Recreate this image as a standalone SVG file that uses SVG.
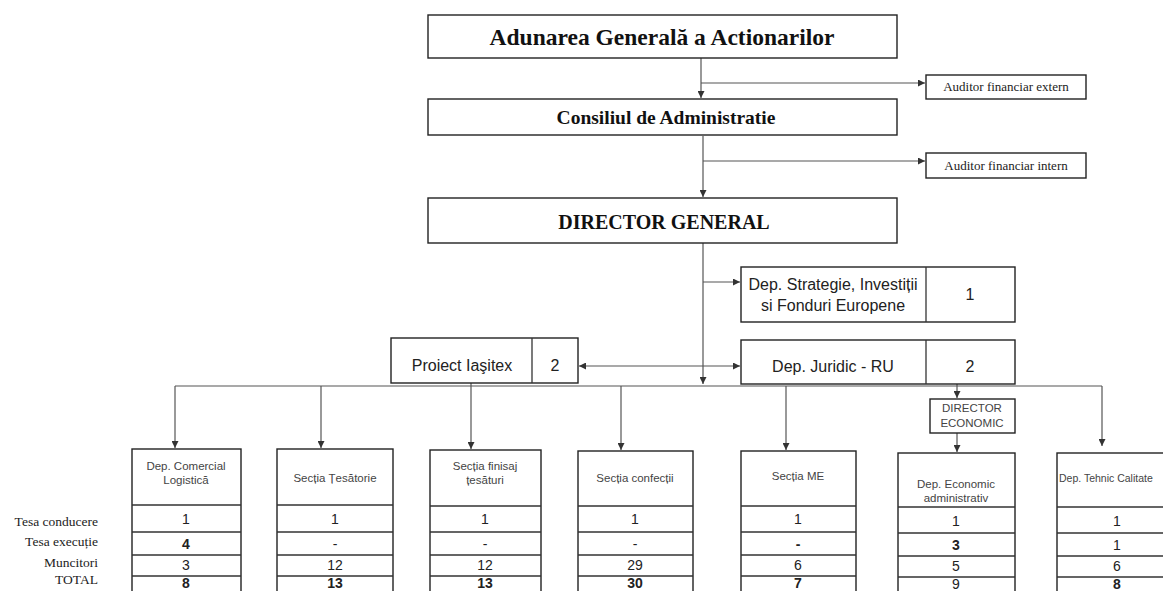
<svg xmlns="http://www.w3.org/2000/svg" width="1163" height="591" viewBox="0 0 1163 591">
<style>
.box{fill:#fff;stroke:#222;stroke-width:1.4}
.ln{fill:none;stroke:#333;stroke-width:1.3}
.con{fill:none;stroke:#555;stroke-width:1.2}
.serifB{font-family:"Liberation Serif","Times New Roman",serif;font-weight:bold;fill:#111;text-anchor:middle}
.aud{font-family:"Liberation Serif","Times New Roman",serif;font-size:13px;fill:#222;text-anchor:middle}
.dep{font-family:"Liberation Sans",Arial,sans-serif;font-size:16px;fill:#222;text-anchor:middle}
.hdr{font-family:"Liberation Sans",Arial,sans-serif;font-size:11.5px;fill:#444;text-anchor:middle}
.val{font-family:"Liberation Sans",Arial,sans-serif;font-size:14px;fill:#222;text-anchor:middle}
.b{font-weight:bold}
.lbl{font-family:"Liberation Serif","Times New Roman",serif;font-size:13.5px;fill:#222;text-anchor:end}
</style>
<defs>
<marker id="ah" viewBox="0 0 10 10" refX="10" refY="5" markerWidth="7" markerHeight="7" markerUnits="userSpaceOnUse" orient="auto">
<path d="M0,0 L10,5 L0,10 z" fill="#333"/>
</marker>
</defs>
<rect width="1163" height="591" fill="#fff"/>

<g id="connectors">
<path class="con" d="M701 58 V98" marker-end="url(#ah)"/>
<path class="con" d="M701 83 H925" marker-end="url(#ah)"/>
<path class="con" d="M703 136 V197" marker-end="url(#ah)"/>
<path class="con" d="M703 161 H925" marker-end="url(#ah)"/>
<path class="con" d="M703 243 V384" marker-end="url(#ah)"/>
<path class="con" d="M703 282 H740" marker-end="url(#ah)"/>
<path class="con" d="M703 366 H579" marker-end="url(#ah)"/>
<path class="con" d="M703 366 H740" marker-end="url(#ah)"/>
<path class="con" d="M175 386 H1102"/>
<path class="con" d="M175 386 V448" marker-end="url(#ah)"/>
<path class="con" d="M321 386 V448" marker-end="url(#ah)"/>
<path class="con" d="M471 383 V449" marker-end="url(#ah)"/>
<path class="con" d="M621 386 V450" marker-end="url(#ah)"/>
<path class="con" d="M786 386 V450" marker-end="url(#ah)"/>
<path class="con" d="M957 384 V398" marker-end="url(#ah)"/>
<path class="con" d="M957 433 V452" marker-end="url(#ah)"/>
<path class="con" d="M1102 386 V446" marker-end="url(#ah)"/>
</g>

<g id="aga">
<rect class="box" x="428" y="15" width="469" height="43"/>
<text class="serifB" x="662" y="45" font-size="23.5">Adunarea Generală a Actionarilor</text>
</g>
<g id="auditor-extern">
<rect class="box" x="926" y="75" width="160" height="24"/>
<text class="aud" x="1006" y="91">Auditor financiar extern</text>
</g>
<g id="consiliu">
<rect class="box" x="428" y="99" width="469" height="36"/>
<text class="serifB" x="666" y="124" font-size="19.5">Consiliul de Administratie</text>
</g>
<g id="auditor-intern">
<rect class="box" x="926" y="153" width="160" height="25"/>
<text class="aud" x="1006" y="170">Auditor financiar intern</text>
</g>
<g id="director-general">
<rect class="box" x="428" y="198" width="469" height="45"/>
<text class="serifB" x="664" y="229" font-size="20">DIRECTOR GENERAL</text>
</g>
<g id="dep-strategie">
<rect class="box" x="741" y="267" width="274" height="55"/>
<line class="ln" x1="926" y1="267" x2="926" y2="322"/>
<text class="dep" x="833" y="290">Dep. Strategie, Investiții</text>
<text class="dep" x="833" y="311">si Fonduri Europene</text>
<text class="dep" x="970" y="300">1</text>
</g>
<g id="proiect-iasitex">
<rect class="box" x="391" y="338" width="187" height="45"/>
<line class="ln" x1="532" y1="338" x2="532" y2="383"/>
<text class="dep" x="462" y="371" font-size="15.5">Proiect Iaşitex</text>
<text class="dep" x="555" y="371">2</text>
</g>
<g id="dep-juridic">
<rect class="box" x="741" y="340" width="274" height="44"/>
<line class="ln" x1="926" y1="340" x2="926" y2="384"/>
<text class="dep" x="833" y="372">Dep. Juridic - RU</text>
<text class="dep" x="970" y="372">2</text>
</g>
<g id="director-economic">
<rect class="box" x="930" y="399" width="85" height="34"/>
<text class="hdr" x="972" y="412" font-size="12">DIRECTOR</text>
<text class="hdr" x="972" y="427" font-size="12">ECONOMIC</text>
</g>

<g id="row-labels">
<text class="lbl" x="98" y="526">Tesa conducere</text>
<text class="lbl" x="98" y="546">Tesa execuție</text>
<text class="lbl" x="98" y="567">Muncitori</text>
<text class="lbl" x="98" y="584">TOTAL</text>
</g>

<g id="col-comercial">
<rect class="box" x="132" y="449" width="109" height="150"/>
<path class="ln" d="M132 505 H241 M132 532 H241 M132 555 H241 M132 576 H241"/>
<text class="hdr" x="186" y="470">Dep. Comercial</text>
<text class="hdr" x="186" y="484">Logistică</text>
<text class="val" x="186" y="524">1</text>
<text class="val b" x="186" y="549">4</text>
<text class="val" x="186" y="570">3</text>
<text class="val b" x="186" y="588">8</text>
</g>
<g id="col-tesatorie">
<rect class="box" x="277" y="449" width="116" height="150"/>
<path class="ln" d="M277 505 H393 M277 532 H393 M277 555 H393 M277 576 H393"/>
<text class="hdr" x="335" y="482">Secția Țesătorie</text>
<text class="val" x="335" y="524">1</text>
<text class="val" x="335" y="549">-</text>
<text class="val" x="335" y="570">12</text>
<text class="val b" x="335" y="588">13</text>
</g>
<g id="col-finisaj">
<rect class="box" x="430" y="450" width="111" height="149"/>
<path class="ln" d="M430 506 H541 M430 532 H541 M430 555 H541 M430 576 H541"/>
<text class="hdr" x="485" y="470">Secția finisaj</text>
<text class="hdr" x="485" y="484">țesături</text>
<text class="val" x="485" y="524">1</text>
<text class="val" x="485" y="549">-</text>
<text class="val" x="485" y="570">12</text>
<text class="val b" x="485" y="588">13</text>
</g>
<g id="col-confectii">
<rect class="box" x="578" y="451" width="115" height="148"/>
<path class="ln" d="M578 506 H693 M578 532 H693 M578 555 H693 M578 576 H693"/>
<text class="hdr" x="635" y="482">Secția confecții</text>
<text class="val" x="635" y="524">1</text>
<text class="val" x="635" y="549">-</text>
<text class="val" x="635" y="570">29</text>
<text class="val b" x="635" y="588">30</text>
</g>
<g id="col-me">
<rect class="box" x="741" y="451" width="115" height="148"/>
<path class="ln" d="M741 506 H856 M741 532 H856 M741 555 H856 M741 576 H856"/>
<text class="hdr" x="798" y="480">Secția ME</text>
<text class="val" x="798" y="524">1</text>
<text class="val b" x="798" y="549">-</text>
<text class="val" x="798" y="570">6</text>
<text class="val b" x="798" y="588">7</text>
</g>
<g id="col-economic">
<rect class="box" x="898" y="453" width="117" height="146"/>
<path class="ln" d="M898 507 H1015 M898 533 H1015 M898 556 H1015 M898 577 H1015"/>
<text class="hdr" x="956" y="488">Dep. Economic</text>
<text class="hdr" x="956" y="502">administrativ</text>
<text class="val" x="956" y="526">1</text>
<text class="val b" x="956" y="550">3</text>
<text class="val" x="956" y="571">5</text>
<text class="val" x="956" y="589">9</text>
</g>
<g id="col-tehnic">
<rect class="box" x="1057" y="453" width="120" height="146"/>
<path class="ln" d="M1057 507 H1177 M1057 533 H1177 M1057 556 H1177 M1057 577 H1177"/>
<text class="hdr" x="1059" y="482" style="text-anchor:start;font-size:10.5px">Dep. Tehnic Calitate</text>
<text class="val" x="1117" y="526">1</text>
<text class="val" x="1117" y="550">1</text>
<text class="val" x="1117" y="571">6</text>
<text class="val b" x="1117" y="589">8</text>
</g>
</svg>
